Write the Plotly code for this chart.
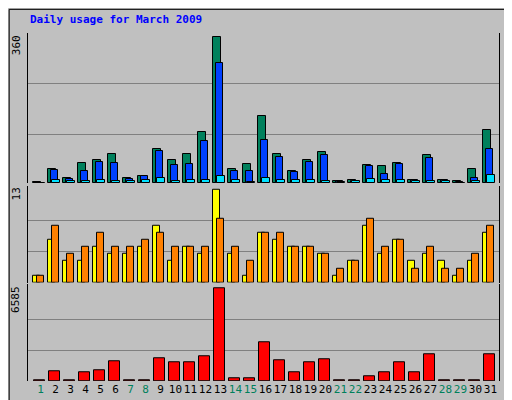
import plotly.graph_objects as go

days = list(range(1, 32))
weekend = [1, 7, 8, 14, 15, 21, 22, 28, 29]

hits = [2, 34, 12, 49, 56, 71, 12, 17, 83, 56, 71, 127, 360, 34, 46, 166,
        71, 29, 56, 76, 5, 7, 44, 42, 49, 7, 69, 7, 5, 34, 130]
files = [1, 32, 9, 29, 51, 49, 9, 17, 78, 44, 46, 103, 296, 29, 29, 105,
         64, 27, 51, 69, 4, 6, 42, 22, 46, 7, 61, 7, 3, 12, 83]
pages = [0, 7, 5, 5, 7, 5, 5, 7, 12, 5, 7, 7, 17, 7, 2, 12,
         7, 7, 7, 5, 2, 5, 10, 7, 7, 5, 5, 5, 1, 5, 20]
visits = [1, 6, 3, 3, 5, 4, 4, 5, 8, 3, 5, 4, 13, 4, 1, 7,
          6, 5, 5, 4, 1, 3, 8, 4, 6, 3, 4, 3, 1, 3, 7]
sites = [1, 8, 4, 5, 7, 5, 5, 6, 7, 5, 5, 5, 9, 5, 3, 7,
         7, 5, 5, 4, 2, 3, 9, 5, 6, 2, 5, 2, 2, 4, 8]
kbytes = [50, 723, 50, 651, 795, 1374, 50, 50, 1591, 1302, 1302, 1736, 6585, 217, 217, 2750,
          1447, 651, 1302, 1519, 50, 50, 362, 651, 1302, 651, 1881, 50, 50, 50, 1881]

BG = "#C0C0C0"
MONO = "DejaVu Sans Mono"
line = dict(color="black", width=1)

fig = go.Figure()
# top panel: hits / files / pages
fig.add_bar(x=days, y=hits, width=0.55, offset=-0.5, marker=dict(color="#00805C", line=line), yaxis="y")
fig.add_bar(x=days, y=files, width=0.48, offset=-0.32, marker=dict(color="#0040FF", line=line), yaxis="y")
fig.add_bar(x=days, y=pages, width=0.5, offset=-0.21, marker=dict(color="#00E0FF", line=line), yaxis="y")
# middle panel: visits / sites
fig.add_bar(x=days, y=visits, width=0.5, offset=-0.5, marker=dict(color="#FFFF00", line=line), yaxis="y2")
fig.add_bar(x=days, y=sites, width=0.47, offset=-0.21, marker=dict(color="#FF8000", line=line), yaxis="y2")
# bottom panel: kbytes
fig.add_bar(x=days, y=kbytes, width=0.69, offset=-0.41, marker=dict(color="#FF0000", line=line), yaxis="y3")

ticktext = [f"<span style='color:#00805C'>{d}</span>" if d in weekend else str(d) for d in days]

yax = dict(showticklabels=False, ticks="", showline=True, mirror=True, linecolor="black",
           gridcolor="#808080", gridwidth=1, zeroline=False, fixedrange=True)

fig.update_layout(
    width=512, height=400,
    paper_bgcolor=BG, plot_bgcolor=BG,
    barmode="overlay", showlegend=False,
    margin=dict(l=20, r=21, t=25, b=22),
    font=dict(family=MONO, size=11, color="black"),
    bargap=0,
    xaxis=dict(range=[0.167, 31.57], tickvals=days, ticktext=ticktext, ticks="", anchor="y3",
               tickangle=0, showgrid=False, showline=False, zeroline=False, tickfont=dict(size=11)),
    yaxis=dict(domain=[0.569, 1], range=[0, 370], tickvals=[120, 245], **yax),
    yaxis2=dict(domain=[0.283, 0.561], range=[0, 13.6], tickvals=[13 / 3, 26 / 3], **yax),
    yaxis3=dict(domain=[0, 0.278], range=[0, 6900], tickvals=[2195, 4390], **yax),
    shapes=[dict(type="rect", xref="paper", yref="paper", x0=-0.040, x1=1.042, y0=-0.059, y1=1.068,
                 line=dict(color="black", width=1))],
)

ann = [
    dict(text="<b>Daily usage for March 2009</b>", x=0, y=1.062, xanchor="left", yanchor="top",
         font=dict(color="#0000FF", size=11)),
    dict(text="360", x=-0.025, y=1, textangle=-90, yanchor="top", xanchor="center"),
    dict(text="13", x=-0.025, y=0.561, textangle=-90, yanchor="top", xanchor="center"),
    dict(text="6585", x=-0.025, y=0.278, textangle=-90, yanchor="top", xanchor="center"),
    dict(text="<span style='color:#00E0FF'>Pages</span> / <span style='color:#0040FF'>Files</span>"
              " / <span style='color:#00805C'>Hits</span>",
         x=1.004, y=1, textangle=-90, yanchor="top", xanchor="left"),
    dict(text="<span style='color:#FF8000'>Sites</span> / <span style='color:#FFFF00'>Visits</span>",
         x=1.004, y=0.54, textangle=-90, yanchor="top", xanchor="left"),
    dict(text="<span style='color:#FF0000'>KBytes</span>",
         x=1.004, y=0.0, textangle=-90, yanchor="bottom", xanchor="left"),
]
for a in ann:
    a.update(xref="paper", yref="paper", showarrow=False)
    fig.add_annotation(**a)

fig.write_html("out.html")
